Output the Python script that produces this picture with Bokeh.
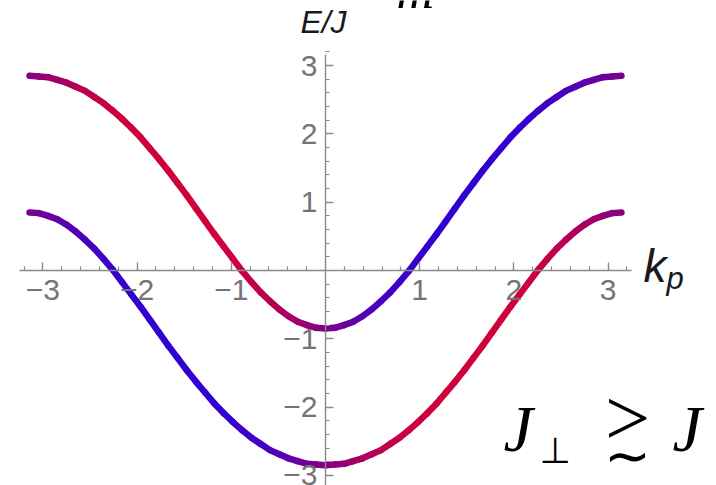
import numpy as np
from bokeh.plotting import figure
from bokeh.models import ColumnDataSource, FixedTicker, Label, Range1d
from bokeh.embed import file_html
from bokeh.resources import INLINE

# momentum k_p over the Brillouin zone (steps of pi/32)
k_p = [-3.1416, -3.0434, -2.9452, -2.8471, -2.7489, -2.6507, -2.5525, -2.4544,
       -2.3562, -2.2580, -2.1598, -2.0617, -1.9635, -1.8653, -1.7671, -1.6690,
       -1.5708, -1.4726, -1.3744, -1.2763, -1.1781, -1.0799, -0.9817, -0.8836,
       -0.7854, -0.6872, -0.5890, -0.4909, -0.3927, -0.2945, -0.1963, -0.0982,
       0.0,
       0.0982, 0.1963, 0.2945, 0.3927, 0.4909, 0.5890, 0.6872, 0.7854,
       0.8836, 0.9817, 1.0799, 1.1781, 1.2763, 1.3744, 1.4726, 1.5708,
       1.6690, 1.7671, 1.8653, 1.9635, 2.0617, 2.1598, 2.2580, 2.3562,
       2.4544, 2.5525, 2.6507, 2.7489, 2.8471, 2.9452, 3.0434, 3.1416]

# energies E/J of the two bands
upper_band = [2.85, 2.84, 2.83, 2.79, 2.75, 2.69, 2.63, 2.54,
              2.45, 2.34, 2.22, 2.09, 1.95, 1.79, 1.63, 1.46,
              1.28, 1.10, 0.91, 0.72, 0.53, 0.35, 0.17, -0.01,
              -0.17, -0.32, -0.45, -0.57, -0.67, -0.75, -0.80, -0.84,
              -0.85,
              -0.84, -0.80, -0.75, -0.67, -0.57, -0.45, -0.32, -0.17,
              -0.01, 0.17, 0.35, 0.53, 0.72, 0.91, 1.10, 1.28,
              1.46, 1.63, 1.79, 1.95, 2.09, 2.22, 2.34, 2.45,
              2.54, 2.63, 2.69, 2.75, 2.79, 2.83, 2.84, 2.85]
lower_band = [0.85, 0.84, 0.80, 0.75, 0.67, 0.57, 0.45, 0.32,
              0.17, 0.01, -0.17, -0.35, -0.53, -0.72, -0.91, -1.10,
              -1.28, -1.46, -1.63, -1.79, -1.95, -2.09, -2.22, -2.34,
              -2.45, -2.54, -2.63, -2.69, -2.75, -2.79, -2.83, -2.84,
              -2.85,
              -2.84, -2.83, -2.79, -2.75, -2.69, -2.63, -2.54, -2.45,
              -2.34, -2.22, -2.09, -1.95, -1.79, -1.63, -1.46, -1.28,
              -1.10, -0.91, -0.72, -0.53, -0.35, -0.17, 0.01, 0.17,
              0.32, 0.45, 0.57, 0.67, 0.75, 0.80, 0.84, 0.85]

# character of each state: +1 fully "red", -1 fully "blue"
upper_char = [0.08, 0.15, 0.27, 0.39, 0.5, 0.6, 0.7, 0.78,
              0.85, 0.9, 0.95, 0.98, 1.0, 1.0, 1.0, 1.0,
              1.0, 1.0, 1.0, 1.0, 1.0, 0.98, 0.95, 0.9,
              0.85, 0.78, 0.7, 0.6, 0.5, 0.38, 0.25, 0.12,
              0.0,
              -0.12, -0.25, -0.38, -0.5, -0.6, -0.7, -0.78, -0.85,
              -0.9, -0.95, -0.98, -1.0, -1.0, -1.0, -1.0, -1.0,
              -1.0, -1.0, -1.0, -1.0, -0.98, -0.95, -0.9, -0.85,
              -0.78, -0.7, -0.6, -0.5, -0.39, -0.27, -0.15, -0.08]
lower_char = [-0.08, -0.15, -0.27, -0.39, -0.5, -0.6, -0.7, -0.78,
              -0.85, -0.9, -0.95, -0.98, -1.0, -1.0, -1.0, -1.0,
              -1.0, -1.0, -1.0, -1.0, -1.0, -0.98, -0.95, -0.9,
              -0.85, -0.78, -0.7, -0.6, -0.5, -0.38, -0.25, -0.12,
              0.0,
              0.12, 0.25, 0.38, 0.5, 0.6, 0.7, 0.78, 0.85,
              0.9, 0.95, 0.98, 1.0, 1.0, 1.0, 1.0, 1.0,
              1.0, 1.0, 1.0, 1.0, 0.98, 0.95, 0.9, 0.85,
              0.78, 0.7, 0.6, 0.5, 0.39, 0.27, 0.15, 0.08]

x_ticks = [-3, -2, -1, 1, 2, 3]
x_tick_labels = ["\u22123", "\u22122", "\u22121", "1", "2", "3"]
y_ticks = [-3, -2, -1, 1, 2, 3]
y_tick_labels = ["\u22123", "\u22122", "\u22121", "1", "2", "3"]

RED = np.array([208, 0, 58])
BLUE = np.array([51, 0, 210])


def blend(c):
    t = (c + 1.0) / 2.0
    rgb = BLUE + (RED - BLUE) * t
    return "#%02x%02x%02x" % tuple(int(round(v)) for v in rgb)


def segments(xs, ys, chars):
    xs, ys, chars = np.asarray(xs), np.asarray(ys), np.asarray(chars)
    mid = (chars[:-1] + chars[1:]) / 2.0
    return ColumnDataSource(dict(x0=xs[:-1], y0=ys[:-1], x1=xs[1:], y1=ys[1:],
                                 color=[blend(c) for c in mid]))


p = figure(width=716, height=485, output_backend="svg", toolbar_location=None,
           x_range=Range1d(-3.450, 4.151), y_range=Range1d(-3.148, 3.953),
           min_border=0)
p.grid.visible = False
p.outline_line_color = None
p.background_fill_color = "white"
p.border_fill_color = "white"

axis_gray = "#8a8a8a"
minor = [round(v / 10, 1) for v in range(-32, 33, 2) if v % 10 != 0]

for ax, ticks, labels, bounds in ((p.xaxis[0], x_ticks, x_tick_labels, (-3.25, 3.25)),
                                  (p.yaxis[0], y_ticks, y_tick_labels, (-3.4, 3.16))):
    ax.fixed_location = 0
    ax.bounds = bounds
    ax.ticker = FixedTicker(ticks=ticks, minor_ticks=minor)
    ax.major_label_overrides = {t: s for t, s in zip(ticks, labels)}
    ax.axis_line_color = axis_gray
    ax.axis_line_width = 1.4
    ax.major_tick_line_color = axis_gray
    ax.minor_tick_line_color = axis_gray
    ax.major_tick_line_width = 1.4
    ax.minor_tick_line_width = 1.2
    ax.major_tick_in = 8
    ax.major_tick_out = 0
    ax.minor_tick_in = 4
    ax.minor_tick_out = 0
    ax.major_label_text_font = "Liberation Sans"
    ax.major_label_text_font_size = "30px"
    ax.major_label_text_color = "#747474"

p.xaxis.major_label_standoff = 10
p.yaxis.major_label_standoff = 8

for ys, chars in ((upper_band, upper_char), (lower_band, lower_char)):
    p.segment("x0", "y0", "x1", "y1", source=segments(k_p, ys, chars),
              line_color="color", line_width=6.5, line_cap="round")

H = 485
DESCENT = {"Liberation Sans": 0.212, "Liberation Serif": 0.216, "DejaVu Sans": 0.236}


def label(x, baseline, text, font, size, **kw):
    # anchor the text box bottom so that the glyph baseline lands at `baseline`
    bottom = baseline + DESCENT[font] * size
    p.add_layout(Label(x=x, y=H - bottom, x_units="screen", y_units="screen",
                       text=text, text_font=font, text_font_size=f"{size}px",
                       text_baseline="bottom", **kw))


label(323, 33, "E/J", "Liberation Sans", 32, text_font_style="italic",
      text_align="center", text_color="#1a1a1a")
label(643, 282, "k", "Liberation Sans", 46, text_font_style="italic",
      text_color="#1a1a1a")
label(666, 289, "p", "Liberation Sans", 31, text_font_style="italic",
      text_color="#1a1a1a")

label(396, 7, "m", "Liberation Serif", 52, text_font_style="italic",
      text_color="black")

label(503, 450, "J", "Liberation Serif", 66, text_font_style="italic",
      text_color="black")
label(539, 462, "\u22a5", "DejaVu Sans", 36, text_color="black")
label(627, 444, ">", "Liberation Serif", 80, text_align="center",
      text_color="black")
label(627, 474, "\u223c", "DejaVu Sans", 56, text_align="center",
      text_color="black")
label(672, 450, "J", "Liberation Serif", 66, text_font_style="italic",
      text_color="black")

open("out.html", "w").write(file_html(p, INLINE))
